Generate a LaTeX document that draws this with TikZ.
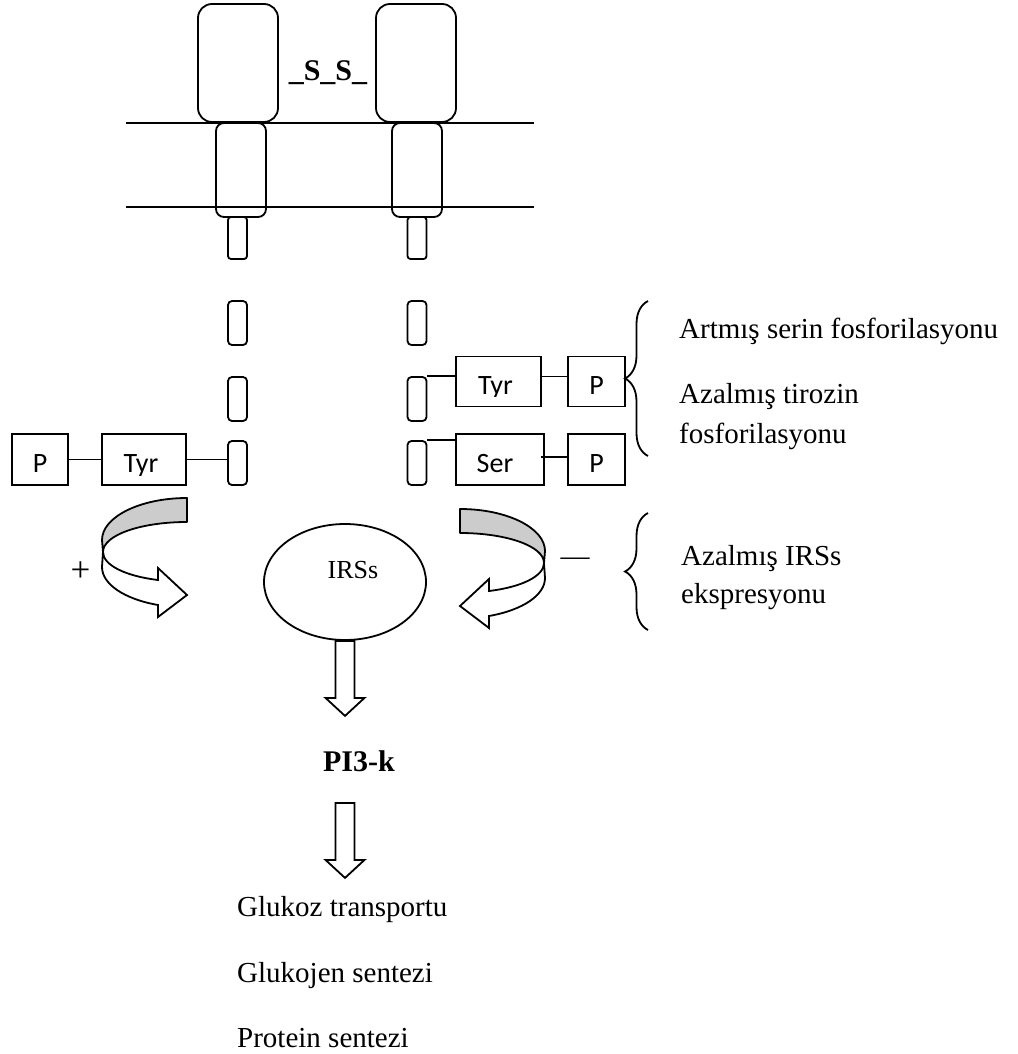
\documentclass[tikz,border=0pt]{standalone}
\usepackage{fontspec}
\setmainfont{Liberation Serif}
\newfontfamily\calibrifont{Carlito}
\usetikzlibrary{positioning, calc, shapes.geometric, decorations.pathreplacing}
\tikzset{
  recbox/.style  = {rectangle, rounded corners=14pt, draw, line width=1.8pt,
                    minimum width=80pt, minimum height=118pt, inner sep=0pt},
  tmbox/.style   = {rectangle, rounded corners=8pt, draw, line width=1.8pt,
                    minimum width=50pt, minimum height=94pt, inner sep=0pt},
  seg/.style     = {rectangle, rounded corners=4pt, draw, line width=1.8pt,
                    minimum width=19pt, minimum height=44pt, inner sep=0pt},
  stalk/.style   = {seg, minimum height=42pt, rounded corners=3pt},
  resbox/.style  = {rectangle, draw, line width=1.8pt, minimum height=51pt, inner sep=0pt},
  cal/.style     = {font=\calibrifont\fontsize{28}{33}\selectfont, inner sep=0pt},
  txt/.style     = {font=\fontsize{29}{35}\selectfont, inner sep=0pt},
  bold/.style    = {font=\bfseries\fontsize{30}{36}\selectfont, inner sep=0pt},
  link/.style    = {line width=1.8pt},
  curly/.style   = {line width=1.8pt, decorate, decoration={brace, amplitude=23pt}},
  curvarrow/.pic = {
    \filldraw[fill=gray!40, line width=1.8pt, line join=round]
      (0,-42) .. controls (-47,-42) and (-85,-23) .. (-85,0) -- (-84,12)
      .. controls (-84,-5) and (-46,-18) .. (0,-18) -- cycle;
    \filldraw[fill=white, line width=1.8pt, line join=miter]
      (-84,12) -- (-85,27) .. controls (-85,44) and (-63,59) .. (-29,65)
      -- (-29,77) -- (0,55) -- (-29,28) -- (-29,40)
      .. controls (-62,36) and (-84,25) .. (-84,12) -- cycle;
  },
  hollowdown/.pic = {
    \draw[line width=1.8pt, line join=miter] (-9.5,0) -- (9.5,0) -- (9.5,57) -- (19.5,57)
      -- (0,75) -- (-19.5,57) -- (-9.5,57) -- cycle;
  },
}
\begin{document}
\begin{tikzpicture}[x=1pt, y=-1pt]
\useasboundingbox (0,0) rectangle (1017,1054);

% membrane
\draw[link] (126,123) -- (534,123);
\draw[link] (126,207) -- (534,207);

% receptor, two halves
\node (rec1) [recbox] at (238,63) {};
\node (rec2) [recbox] at (416,63) {};
\node (ss) [bold, anchor=base] at (328,81) {\_S\_S\_};
\node (tm1) [tmbox] at (241,170) {};
\node (tm2) [tmbox] at (417,170) {};
\node (st1) [stalk] at (237.5,238) {};
\node (st2) [stalk] at (417,238) {};

% broken tails
\node (segL1) [seg] at (237.5,323) {};
\node (segL2) [seg] at (237.5,399) {};
\node (segL3) [seg] at (237.5,463) {};
\node (segR1) [seg] at (417,323) {};
\node (segR2) [seg] at (417,399) {};
\node (segR3) [seg] at (417,463) {};

% left: tyrosine phosphorylation
\node (pL) [resbox, minimum width=56pt] at (40,459.5) {};
\node (pLt) [cal, anchor=base] at ([yshift=13pt]pL.south) {P};
\node (tyrL) [resbox, minimum width=84pt] at (144,459.5) {};
\begin{scope}
  \clip (tyrL.north west) rectangle ([yshift=10pt]tyrL.south east);
  \node (tyrLt) [cal, anchor=base] at ([xshift=-3pt, yshift=13pt]tyrL.south) {Tyr};
\end{scope}
\draw[link] (pL) -- (tyrL);
\draw[link] (tyrL.east) -- (tyrL.east -| segL3.west);

% right: tyrosine and serine
\node (tyrR) [resbox, minimum width=85pt, minimum height=50pt] at (498.5,381.5) {};
\begin{scope}
  \clip (tyrR.north west) rectangle ([yshift=11pt]tyrR.south east);
  \node (tyrRt) [cal, anchor=base] at ([xshift=-3pt, yshift=13pt]tyrR.south) {Tyr};
\end{scope}
\node (pR1) [resbox, minimum width=57pt, minimum height=50pt] at (596.5,381.5) {};
\node (pR1t) [cal, anchor=base] at ([yshift=13pt]pR1.south) {P};
\node (serR) [resbox, minimum width=88pt] at (500,459.5) {};
\node (serRt) [cal, anchor=base] at ([xshift=-5pt, yshift=13pt]serR.south) {Ser};
\node (pR2) [resbox, minimum width=57pt] at (596.5,459.5) {};
\node (pR2t) [cal, anchor=base] at ([yshift=13pt]pR2.south) {P};
\draw[link] (segR2.north east) -- (segR2.north east -| tyrR.west);
\draw[link] ([yshift=5pt]tyrR.east) -- ([yshift=5pt]pR1.west);
\draw[link] (segR3.north east) -- (segR3.north east -| serR.west);
\draw[link] ([xshift=-4pt, yshift=2.5pt]serR.east) -- ([yshift=2.5pt]pR2.west);

% braces and notes
\draw[curly] (648,456) -- (648,301);
\node (n1) [txt, anchor=base west] at (679,338) {Artmış serin fosforilasyonu};
\node (n2) [txt, anchor=base west] at (679,403) {Azalmış tirozin};
\node (n3) [txt, anchor=base west] at (679,443) {fosforilasyonu};
\draw[curly] (648,630) -- (648,513);
\node (n4) [txt, anchor=base west] at (681,565) {Azalmış IRSs};
\node (n5) [txt, anchor=base west] at (681,603) {ekspresyonu};

% IRSs and the two curved arrows
\node (irs) [ellipse, draw, line width=1.8pt, minimum width=162pt, minimum height=116pt,
  inner sep=0pt] at (345,582) {};
\node (irst) [txt, font=\fontsize{26}{31}\selectfont, anchor=base] at (353,578) {IRSs};
\pic at (187,540) {curvarrow};
\pic[xscale=-1] at (460,551) {curvarrow};
\node (plus) [txt, font=\fontsize{35}{40}\selectfont, anchor=base] at (80.5,581) {+};
\node (minus) [txt, anchor=base] at (575,565) {—};

% downstream
\pic at (irs.south) {hollowdown};
\node (pi3k) [bold, anchor=base] at (359,771) {PI3-k};
\pic at ($(irs.south)+(0,162)$) {hollowdown};
\node (o1) [txt, anchor=base west] at (237,916) {Glukoz transportu};
\node (o2) [txt, anchor=base west] at (237,982) {Glukojen sentezi};
\node (o3) [txt, anchor=base west] at (237,1047) {Protein sentezi};

\end{tikzpicture}
\end{document}
